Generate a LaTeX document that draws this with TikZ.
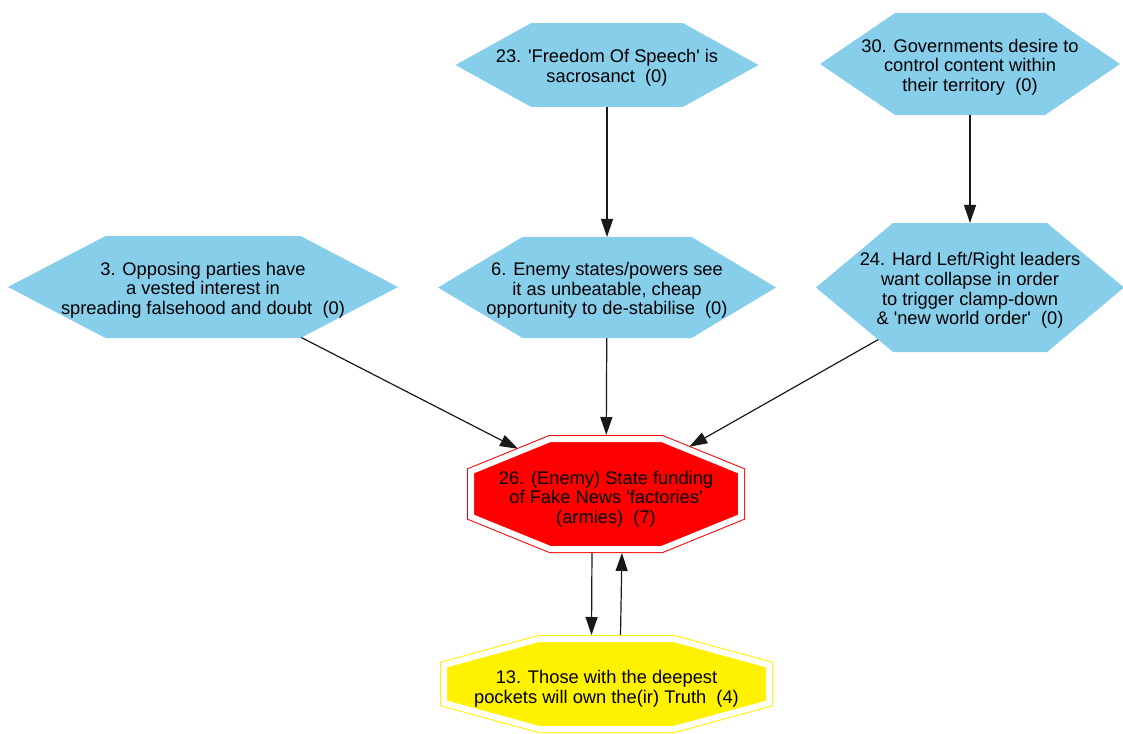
\documentclass[tikz,border=0pt]{standalone}
\usepackage{fontspec}
\newfontfamily\lblfont{Liberation Sans}[Ligatures=TeXOff]
\usetikzlibrary{shapes.geometric,arrows.meta}
\definecolor{hexblue}{RGB}{135,206,235}
\definecolor{edgegray}{RGB}{25,25,25}
\begin{document}
\begin{tikzpicture}[x=1pt,y=-1pt,
  % unit hexagon: circumradius 50pt, width 100pt, height 86.6pt
  hexbox/.style={regular polygon, regular polygon sides=6, minimum size=100pt,
    fill=hexblue, draw=none, inner sep=0pt, outer sep=0pt, transform shape},
  % unit octagon: circumradius 50pt, 92.39pt flat to flat
  octbox/.style={regular polygon, regular polygon sides=8, minimum size=100pt,
    line width=1pt, double=white, double distance=6pt,
    inner sep=0pt, outer sep=0pt, transform shape},
  octline/.style={line width=1pt, double=white, double distance=6pt, line join=miter},
  txt/.style={align=center, inner sep=0pt, text=black,
    font=\lblfont\fontsize{18.3}{19.6}\selectfont},
  edge/.style={draw=edgegray, line width=1.2pt, -{Triangle[length=18pt,width=12pt]}}]
\useasboundingbox (0,0) rectangle (1123,733);

% centres of the boxes
\coordinate (c3)  at (203,287);
\coordinate (c6)  at (607,287.5);
\coordinate (c23) at (607,65);
\coordinate (c30) at (970,64);
\coordinate (c24) at (970,287.5);
\coordinate (c26) at (606,494);
\coordinate (c13) at (606.5,684);

% claim hexagons
\node[hexbox, xscale=3.90, yscale=1.1778] (n3)  at (c3)  {};
\node[hexbox, xscale=3.38, yscale=1.1663] (n6)  at (c6)  {};
\node[hexbox, xscale=3.03, yscale=0.9699] (n23) at (c23) {};
\node[hexbox, xscale=3.00, yscale=1.1778] (n30) at (c30) {};
\node[hexbox, xscale=3.08, yscale=1.4896] (n24) at (c24) {};

% red octagon with a double outline
\node[octbox, draw=red, fill=red, xscale=2.9224, yscale=1.1906] (n26) at (c26) {};

% yellow octagon, partly below the lower edge
\node[rectangle, draw=none, minimum width=325pt, minimum height=90pt,
  inner sep=0pt, outer sep=4pt] (n13) at (c13) {};
\draw[octline, draw=yellow, fill=yellow, shift={(c13)}]
  (-67.5,-45) -- (67.5,-45) -- (162.5,-19) -- (162.5,19) -- (67.5,45)
  -- (-67.5,45) -- (-162.5,19) -- (-162.5,-19) -- cycle;

% texts
\node[txt] (t3)  at ([yshift=-3pt]c3)  {3. Opposing parties have\\a vested interest in\\spreading falsehood and doubt\ \ (0)};
\node[txt] (t6)  at ([yshift=-3pt]c6)  {6. Enemy states/powers see\\it as unbeatable, cheap\\opportunity to de-stabilise\ \ (0)};
\node[txt] (t23) at ([yshift=-3pt]c23) {23. 'Freedom Of Speech' is\\sacrosanct\ \ (0)};
\node[txt] (t30) at ([yshift=-3pt]c30) {30. Governments desire to\\control content within\\their territory\ \ (0)};
\node[txt] (t24) at ([yshift=-3pt]c24) {24. Hard Left/Right leaders\\want collapse in order\\to trigger clamp-down\\\& 'new world order'\ \ (0)};
\node[txt] (t26) at ([yshift=-5pt]c26) {26. (Enemy) State funding\\of Fake News 'factories'\\(armies)\ \ (7)};
\node[txt] (t13) at ([yshift=-5pt]c13) {13. Those with the deepest\\pockets will own the(ir) Truth\ \ (4)};

% connectors
\draw[edge] (n23) -- (n6);
\draw[edge] (n30) -- (n24);
\draw[edge, shorten >=4pt] (n3) -- (n26);
\draw[edge, shorten >=4pt] (n6) -- (n26);
\draw[edge, shorten >=4pt] (n24) -- (n26);
\draw[edge, shorten <=4pt] ([xshift=-14pt]n26.south) -- ([xshift=-15pt]n13.north);
\draw[edge, shorten >=4pt] ([xshift=14pt]n13.north) -- ([xshift=16pt]n26.south);
\end{tikzpicture}
\end{document}
